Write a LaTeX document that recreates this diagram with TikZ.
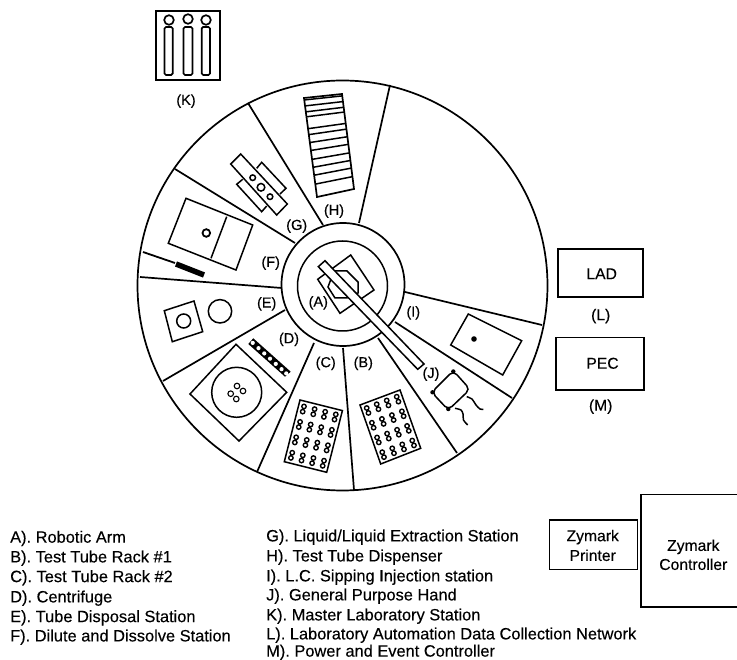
\documentclass[tikz,border=0pt]{standalone}
\usepackage{fontspec}
\setmainfont{Liberation Sans}[FakeBold=0.25]
\newcommand{\tuberack}[8]{%
  \draw[part] (#1,#2)--(#3,#4)--(#5,#6)--(#7,#8)--cycle;
  \foreach \ci in {1,...,4}{\foreach \cj in {1,...,4}{\foreach \cs in {-1,1}{%
    \pgfmathsetmacro{\cu}{(\ci-0.5)/4}%
    \pgfmathsetmacro{\cv}{(\cj-0.5)/4+\cs*0.042}%
    \pgfmathsetmacro{\cx}{(1-\cv)*((1-\cu)*#1+\cu*#3)+\cv*((1-\cu)*#7+\cu*#5)}%
    \pgfmathsetmacro{\cy}{(1-\cv)*((1-\cu)*#2+\cu*#4)+\cv*((1-\cu)*#8+\cu*#6)}%
    \draw[line width=1.4] (\cx,\cy) circle[radius=2.2];
  }}}%
}
\tikzset{
  x=1pt,y=-1pt,
  wheel/.style={line width=1.7,black},
  spoke/.style={line width=1.7,black},
  part/.style={line width=1.5,black},
  box/.style={line width=1.6,black},
  tag/.style={font=\fontsize{14.5}{14.5}\selectfont,inner sep=0pt,text height=10.4pt,text depth=3pt,yshift=-1.2pt},
  boxtext/.style={font=\fontsize{15.7}{15.7}\selectfont,inner sep=0pt,text height=11.2pt,text depth=3.2pt,yshift=-1.2pt},
  legend/.style={font=\fontsize{16.4}{16.4}\selectfont,inner sep=0pt,anchor=west,text height=11.8pt,text depth=3.4pt,yshift=-1.2pt},
}
\begin{document}
\begin{tikzpicture}
\useasboundingbox (0,0) rectangle (737,660);
% wheel
\draw[wheel] (342.5,285.5) circle[radius=205];
\draw[wheel] (343,284.5) circle[radius=61.5];
\draw[part] (342.5,286) circle[radius=45];
% spokes
\draw[spoke] (248,103)--(323,225);
\draw[spoke] (175,169)--(295,243);
\draw[spoke] (140,277)--(282,288);
\draw[spoke] (163,381)--(285,310);
\draw[spoke] (314,343)--(257,472);
\draw[spoke] (343,348)--(354,490);
\draw[spoke] (378,338)--(457,453);
\draw[spoke] (395,322)--(512,398);
\draw[spoke] (405,292)--(542,325);
\draw[spoke] (359,223)--(390,85);
% K
\draw[box] (156,11) rectangle (220,80);
\foreach \kx/\ky in {169/20,188/19,206/20}{\draw[line width=1.7] (\kx,\ky) circle[radius=4.8];}
\draw[line width=1.7,rounded corners=1.5] (164.5,27) rectangle (172.7,75);
\draw[line width=1.7,rounded corners=1.5] (183.5,27) rectangle (192.5,75);
\draw[line width=1.7,rounded corners=1.5] (201.7,27) rectangle (210,75);
% H
\draw[line width=1.7] (304,98)--(342,94)--(354,189)--(317,197)--cycle;
\foreach \ht in {0.02,0.08,0.14,0.19,0.31,0.37,0.45,0.53,0.62,0.70,0.78,0.87}{
  \draw[line width=1.5] ({304+13*\ht},{98+99*\ht})--({342+12*\ht},{94+95*\ht});
}
% G
\draw[part] (230.7,164)--(240.7,154)--(287.3,204)--(276.7,215)--cycle;
\draw[part] (256.7,168.3)--(261.7,162.3)--(286,188.3)--(280,194);
\draw[part] (242.7,179.3)--(236.7,184.3)--(261.7,211.7)--(266.7,206);
\draw[part] (252.7,177.7) circle[radius=2.8];
\draw[part] (261,187.3) circle[radius=3.8];
\draw[part] (270,196.7) circle[radius=2.8];
% F
\draw[part] (186,198.3)--(252.7,225)--(236,270)--(168.3,243.3)--cycle;
\draw[part] (226.7,216.7)--(211,258.3);
\draw[line width=1.8] (206.3,233) circle[radius=3.8];
\draw[line width=1.8] (143,252)--(175,263);
\draw[line width=5.5] (176,264)--(204,275);
% E
\draw[part] (164.3,310.7)--(194,301)--(202.7,331.7)--(172.3,341.7)--cycle;
\draw[part] (183.7,321) circle[radius=7];
\draw[part] (220,311.3) circle[radius=11.7];
% D
\draw[part] (236,344.3)--(286.7,392.3)--(239,441)--(190,394)--cycle;
\draw[part] (236.7,392.3) circle[radius=25];
\foreach \dx/\dy in {237/386,243/391,230.7/393.7,236.3/399}{\draw[line width=1.1] (\dx,\dy) circle[radius=2.8];}
\fill[black] (253.3,338.3)--(290.7,371.7)--(285,376.7)--(248.3,344)--cycle;
\foreach \st in {0.04,0.2,0.36,0.52,0.68,0.84,0.97}{
  \fill[white] ({251.3+36*\st},{341.6+32.8*\st}) circle[radius=2.1];
}
% C, B
\tuberack{300}{400}{342.4}{410.6}{326.7}{472.3}{284.3}{461.7}
\tuberack{360}{405}{400}{390}{420.7}{448.3}{380.7}{464}
% I
\draw[part] (468.3,314)--(521.7,340.7)--(502.7,375)--(450.7,345)--cycle;
\fill (474,339) circle[radius=2.8];
% J
\draw[part,rounded corners=5] (453.3,370.7)--(470,389.3)--(448.3,410)--(431.7,392.3)--cycle;
\fill (453.3,371.5) circle[radius=2.2] (432.5,392.3) circle[radius=2.2] (448.3,409) circle[radius=2.2];
\draw[part] plot[smooth] coordinates {(466.7,396.7)(472,399)(476,405)(480,409)(483.3,409.3)};
\draw[part] plot[smooth] coordinates {(455,408.3)(461,410)(463,414)(463.5,420)(467.7,425)};
% A
\draw[part] (350.7,255)--(374,290)--(340,313.3)--(317.7,279.3)--cycle;
\draw[part,fill=white] (334,271)--(347,271)--(358,282)--(358,293)--(347,298)--(335,298)--(328,287)--cycle;
\draw[part,fill=white] (318.3,266.7)--(325,260.7)--(424,364)--(417.7,369.3)--cycle;
% tags
\node[tag] (tagK) at (186,100) {(K)};
\node[tag] (tagH) at (334,210) {(H)};
\node[tag] (tagG) at (296.7,225) {(G)};
\node[tag] (tagF) at (270.7,262) {(F)};
\node[tag] (tagE) at (266.7,302.7) {(E)};
\node[tag] (tagD) at (289,338.3) {(D)};
\node[tag] (tagC) at (325.7,362.3) {(C)};
\node[tag] (tagB) at (363.3,362.3) {(B)};
\node[tag] (tagA) at (318.3,301.7) {(A)};
\node[tag] (tagI) at (413.3,311.7) {(I)};
\node[tag] (tagJ) at (431,373) {(J)};
% right boxes
\draw[box] (557.7,249.3) rectangle (642.7,297.3);
\node[boxtext] (lad) at (601.7,274) {LAD};
\node[boxtext] (tagL) at (600.7,315) {(L)};
\draw[box] (556,337.7) rectangle (644,390);
\node[boxtext] (pec) at (602.5,363.5) {PEC};
\node[boxtext] (tagM) at (600.7,405.5) {(M)};
\draw[box] (549.3,520) rectangle (637.3,569.3);
\node[boxtext] (zp1) at (592.7,536) {Zymark};
\node[boxtext] (zp2) at (592.7,555.7) {Printer};
\draw[box] (737,494.3)--(640.7,494.3)--(640.7,606.7)--(737,606.7);
\node[boxtext] (zc1) at (693.3,545.7) {Zymark};
\node[boxtext] (zc2) at (693.3,564.7) {Controller};
% legend
\node[legend] (la) at (10,537.3) {A). Robotic Arm};
\node[legend] (lb) at (10,557) {B). Test Tube Rack \#1};
\node[legend] (lc) at (10,576.7) {C). Test Tube Rack \#2};
\node[legend] (ld) at (10,597) {D). Centrifuge};
\node[legend] (le) at (10,616.7) {E). Tube Disposal Station};
\node[legend] (lf) at (10,636) {F). Dilute and Dissolve Station};
\node[legend] (lg) at (266,536) {G). Liquid/Liquid Extraction Station};
\node[legend] (lh) at (266,556) {H). Test Tube Dispenser};
\node[legend] (li) at (266,576) {I). L.C. Sipping Injection station};
\node[legend] (lj) at (266,595) {J). General Purpose Hand};
\node[legend] (lk) at (266,615) {K). Master Laboratory Station};
\node[legend] (ll) at (266,634) {L). Laboratory Automation Data Collection Network};
\node[legend] (lm) at (266,651.2) {M). Power and Event Controller};
\end{tikzpicture}
\end{document}
